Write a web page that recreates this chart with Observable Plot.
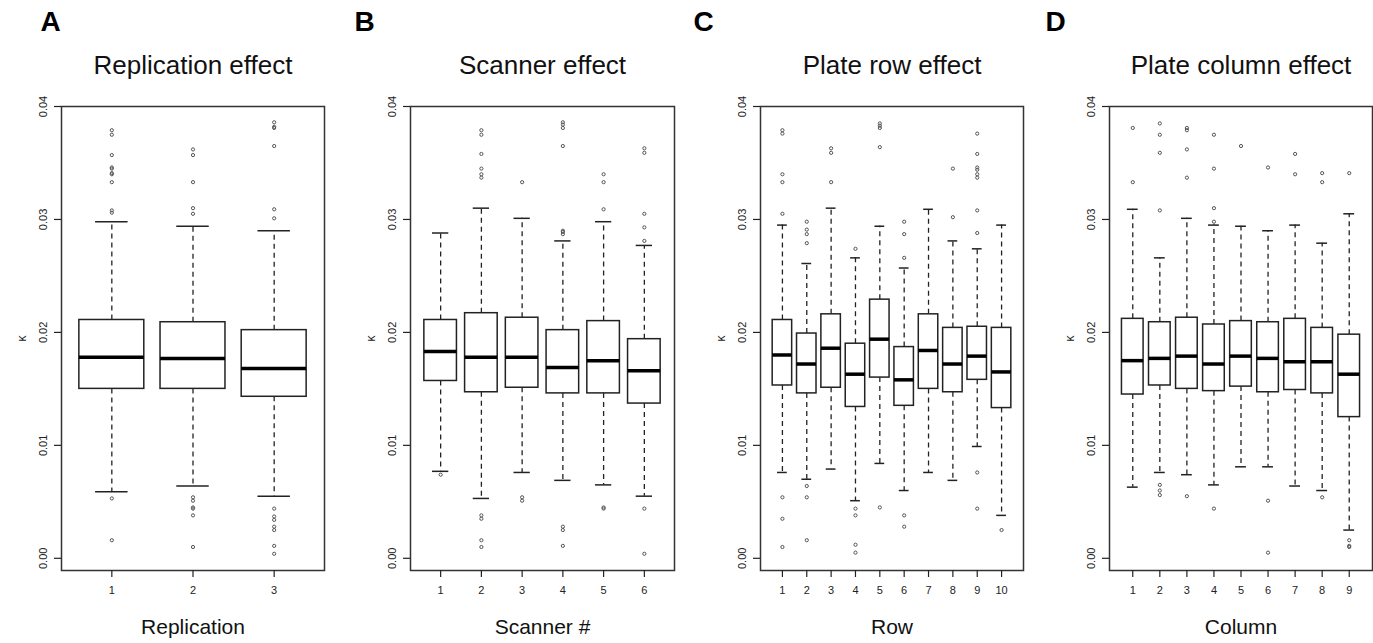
<!DOCTYPE html>
<html>
<head>
<meta charset="utf-8">
<script src="https://cdn.jsdelivr.net/npm/d3@7"></script>
<script src="https://cdn.jsdelivr.net/npm/@observablehq/plot@0.6"></script>
<style>
  html, body { margin: 0; padding: 0; background: #fff; }
  #root { position: relative; width: 1373px; height: 643px; overflow: hidden; font-family: "Liberation Sans", Arial, sans-serif; }
  .panel { position: absolute; top: 0; }
</style>
</head>
<body>
<div id="root"></div>
<script>
// ---------- Panel A: Replication ----------
const replicationCats = [1, 2, 3];
const replicationLo  = [0.0059, 0.0064, 0.0055];
const replicationQ1  = [0.0150, 0.0150, 0.0143];
const replicationMed = [0.0178, 0.0177, 0.0168];
const replicationQ3  = [0.0211, 0.0209, 0.0202];
const replicationHi  = [0.0298, 0.0294, 0.0290];
const replicationOut = [
  [0.0379, 0.0375, 0.0357, 0.0346, 0.0345, 0.0341, 0.0340, 0.0333, 0.0308, 0.0306, 0.0053, 0.0016],
  [0.0362, 0.0357, 0.0333, 0.0310, 0.0305, 0.0054, 0.0051, 0.0045, 0.0044, 0.0038, 0.0010],
  [0.0386, 0.0382, 0.0381, 0.0365, 0.0309, 0.0301, 0.0044, 0.0037, 0.0034, 0.0028, 0.0025, 0.0011, 0.0004]
];

// ---------- Panel B: Scanner ----------
const scannerCats = [1, 2, 3, 4, 5, 6];
const scannerLo  = [0.0077, 0.0053, 0.0076, 0.0069, 0.0065, 0.0055];
const scannerQ1  = [0.0157, 0.0147, 0.0151, 0.0146, 0.0146, 0.0137];
const scannerMed = [0.0183, 0.0178, 0.0178, 0.0169, 0.0175, 0.0166];
const scannerQ3  = [0.0211, 0.0217, 0.0213, 0.0202, 0.0210, 0.0194];
const scannerHi  = [0.0288, 0.0310, 0.0301, 0.0281, 0.0298, 0.0277];
const scannerOut = [
  [0.0074],
  [0.0379, 0.0375, 0.0358, 0.0345, 0.0340, 0.0337, 0.0038, 0.0035, 0.0016, 0.0010],
  [0.0333, 0.0054, 0.0051],
  [0.0386, 0.0384, 0.0381, 0.0365, 0.0290, 0.0289, 0.0287, 0.0028, 0.0025, 0.0011],
  [0.0340, 0.0333, 0.0309, 0.0045, 0.0044],
  [0.0363, 0.0359, 0.0305, 0.0293, 0.0281, 0.0044, 0.0004]
];

// ---------- Panel C: Plate row ----------
const rowCats = [1, 2, 3, 4, 5, 6, 7, 8, 9, 10];
const rowLo  = [0.0076, 0.0070, 0.0079, 0.0051, 0.0084, 0.0060, 0.0076, 0.0069, 0.0099, 0.0038];
const rowQ1  = [0.0153, 0.0146, 0.0151, 0.0134, 0.0160, 0.0135, 0.0150, 0.0147, 0.0158, 0.0133];
const rowMed = [0.0180, 0.0172, 0.0186, 0.0163, 0.0194, 0.0158, 0.0184, 0.0172, 0.0179, 0.0165];
const rowQ3  = [0.0211, 0.0199, 0.0216, 0.0190, 0.0229, 0.0187, 0.0216, 0.0204, 0.0205, 0.0204];
const rowHi  = [0.0295, 0.0261, 0.0310, 0.0266, 0.0294, 0.0257, 0.0309, 0.0281, 0.0274, 0.0295];
const rowOut = [
  [0.0379, 0.0376, 0.0340, 0.0333, 0.0305, 0.0054, 0.0035, 0.0010],
  [0.0298, 0.0291, 0.0287, 0.0279, 0.0064, 0.0054, 0.0016],
  [0.0363, 0.0359, 0.0333],
  [0.0274, 0.0044, 0.0038, 0.0012, 0.0005],
  [0.0385, 0.0383, 0.0381, 0.0364, 0.0045],
  [0.0298, 0.0287, 0.0266, 0.0038, 0.0028],
  [],
  [0.0345, 0.0302],
  [0.0376, 0.0358, 0.0346, 0.0344, 0.0340, 0.0337, 0.0308, 0.0288, 0.0076, 0.0044],
  [0.0025]
];

// ---------- Panel D: Plate column ----------
const columnCats = [1, 2, 3, 4, 5, 6, 7, 8, 9];
const columnLo  = [0.0063, 0.0076, 0.0074, 0.0065, 0.0081, 0.0081, 0.0064, 0.0060, 0.0025];
const columnQ1  = [0.0145, 0.0153, 0.0150, 0.0148, 0.0152, 0.0147, 0.0149, 0.0146, 0.0125];
const columnMed = [0.0175, 0.0177, 0.0179, 0.0172, 0.0179, 0.0177, 0.0174, 0.0174, 0.0163];
const columnQ3  = [0.0212, 0.0209, 0.0213, 0.0207, 0.0210, 0.0209, 0.0212, 0.0204, 0.0198];
const columnHi  = [0.0309, 0.0266, 0.0301, 0.0295, 0.0294, 0.0290, 0.0295, 0.0279, 0.0305];
const columnOut = [
  [0.0381, 0.0333],
  [0.0385, 0.0375, 0.0359, 0.0308, 0.0065, 0.0060, 0.0056],
  [0.0381, 0.0379, 0.0362, 0.0337, 0.0055],
  [0.0375, 0.0345, 0.0310, 0.0298, 0.0044],
  [0.0365],
  [0.0346, 0.0051, 0.0005],
  [0.0358, 0.0340],
  [0.0341, 0.0333, 0.0054],
  [0.0341, 0.0016, 0.0011, 0.0010]
];

const yTicks = [0, 0.01, 0.02, 0.03, 0.04];
const yLabel = "κ";

const panels = [
  {letter: "A", title: "Replication effect", xlabel: "Replication", cats: replicationCats, lo: replicationLo, q1: replicationQ1, med: replicationMed, q3: replicationQ3, hi: replicationHi, out: replicationOut,
   left: 0, width: 345, mL: 61, mR: 21, letterDx: -11},
  {letter: "B", title: "Scanner effect", xlabel: "Scanner #", cats: scannerCats, lo: scannerLo, q1: scannerQ1, med: scannerMed, q3: scannerQ3, hi: scannerHi, out: scannerOut,
   left: 345, width: 345, mL: 65, mR: 16, letterDx: -46},
  {letter: "C", title: "Plate row effect", xlabel: "Row", cats: rowCats, lo: rowLo, q1: rowQ1, med: rowMed, q3: rowQ3, hi: rowHi, out: rowOut,
   left: 690, width: 345, mL: 70, mR: 12, letterDx: -57},
  {letter: "D", title: "Plate column effect", xlabel: "Column", cats: columnCats, lo: columnLo, q1: columnQ1, med: columnMed, q3: columnQ3, hi: columnHi, out: columnOut,
   left: 1035, width: 338, mL: 74, mR: 1, letterDx: -54}
];

const root = document.getElementById("root");
const ink = "#222";

for (const p of panels) {
  const n = p.cats.length;
  const pad = 0.04 * n;
  const boxes = p.cats.map((k, i) => ({k, lo: p.lo[i], q1: p.q1[i], med: p.med[i], q3: p.q3[i], hi: p.hi[i]}));
  const outs = p.cats.flatMap((k, i) => p.out[i].map(v => ({k, v})));

  const chart = Plot.plot({
    width: p.width,
    height: 643,
    marginLeft: p.mL,
    marginRight: p.mR,
    marginTop: 106,
    marginBottom: 73,
    style: {fontFamily: '"Liberation Sans", Arial, sans-serif', fontSize: "11px", color: ink, background: "transparent", overflow: "visible"},
    x: {type: "linear", domain: [0.5 - pad, n + 0.5 + pad]},
    y: {type: "linear", domain: [-0.00108, 0.04]},
    marks: [
      // whiskers (dashed)
      Plot.ruleX(boxes, {x: "k", y1: "q3", y2: "hi", stroke: ink, strokeWidth: 1.3, strokeDasharray: "5,4"}),
      Plot.ruleX(boxes, {x: "k", y1: "q1", y2: "lo", stroke: ink, strokeWidth: 1.3, strokeDasharray: "5,4"}),
      // whisker caps
      Plot.ruleY(boxes, {y: "hi", x1: d => d.k - 0.2, x2: d => d.k + 0.2, stroke: ink, strokeWidth: 1.5}),
      Plot.ruleY(boxes, {y: "lo", x1: d => d.k - 0.2, x2: d => d.k + 0.2, stroke: ink, strokeWidth: 1.5}),
      // boxes
      Plot.rect(boxes, {x1: d => d.k - 0.4, x2: d => d.k + 0.4, y1: "q1", y2: "q3", fill: "white", stroke: ink, strokeWidth: 1.5}),
      // medians
      Plot.ruleY(boxes, {y: "med", x1: d => d.k - 0.4, x2: d => d.k + 0.4, stroke: "#000", strokeWidth: 3.5}),
      // outliers
      Plot.dot(outs, {x: "k", y: "v", r: 1.6, stroke: "#555", strokeWidth: 1, fill: "none"}),
      // frame
      Plot.frame({stroke: "#333", strokeWidth: 1.5}),
      // axes
      Plot.axisY({ticks: yTicks, tickFormat: d3.format(".2f"), tickRotate: -90, tickSize: 7, tickPadding: 8, fontSize: 11, label: null, strokeWidth: 1.2}),
      Plot.axisX({ticks: p.cats, tickFormat: d => String(d), tickSize: 7, tickPadding: 9, fontSize: 11, label: null, strokeWidth: 1.2}),
      // y label
      Plot.text([yLabel], {frameAnchor: "left", dx: -39, rotate: -90, lineAnchor: "middle", textAnchor: "middle", fontSize: 12, fill: ink}),
      // x label
      Plot.text([p.xlabel], {frameAnchor: "bottom", dy: 57, lineAnchor: "middle", fontSize: 21, fill: "#111"}),
      // title
      Plot.text([p.title], {frameAnchor: "top", dy: -41, lineAnchor: "middle", fontSize: 26, fill: "#111"}),
      // panel letter
      Plot.text([p.letter], {frameAnchor: "top-left", dx: p.letterDx, dy: -84, lineAnchor: "middle", textAnchor: "middle", fontSize: 28, fontWeight: "bold", fill: "#000"})
    ]
  });
  const div = document.createElement("div");
  div.className = "panel";
  div.style.left = p.left + "px";
  div.appendChild(chart);
  root.appendChild(div);
}
</script>
</body>
</html>
